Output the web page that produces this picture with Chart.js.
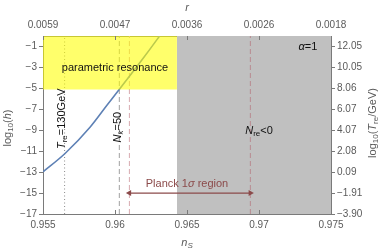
<!DOCTYPE html>
<html>
<head>
<meta charset="utf-8">
<script src="https://cdn.jsdelivr.net/npm/chart.js@4.4.1/dist/chart.umd.min.js"></script>
<style>
  body { margin: 0; background: #fff; }
</style>
</head>
<body>
<canvas id="chart" width="382" height="250"></canvas>
<script>
// curve: log10(h) vs n_s
const nsCurve = [0.955, 0.95653, 0.95828, 0.95944, 0.96025, 0.96176, 0.96304, 0.9632];
const logHCurve = [-12.97, -11.22, -8.69, -6.62, -5.19, -2.49, -0.11, 0.2];

// shaded regions
const resonanceX = [0.955, 0.9643];
const resonanceTop = 0;
const resonanceBottom = -5.1;
const nreNegX = [0.9643, 0.975];

// vertical marker lines
const trLineX = 0.9565;     // T_re = 130 GeV
const nkLineX = 0.9603;     // N_k = 50
const planckX = [0.9610, 0.9694]; // Planck 1 sigma bounds
const arrowY = -15;

// ticks
const nsTicks = [0.955, 0.96, 0.965, 0.97, 0.975];
const nsTickLabels = ['0.955', '0.96', '0.965', '0.97', '0.975'];
const rTickLabels = ['0.0059', '0.0047', '0.0036', '0.0026', '0.0018'];
const yTicks = [-1, -3, -5, -7, -9, -11, -13, -15, -17];
const trTickLabels = ['12.05', '10.05', '8.06', '6.07', '4.07', '2.08', '0.09', '\u22121.91', '\u22123.90'];

const FONT = 'Liberation Sans, Arial, sans-serif';
const AXIS_COLOR = '#7a7a7a';
const LABEL_COLOR = '#5a5a5a';

// text notes, in data coordinates
const notes = [
    { parts: [{ t: 'parametric resonance' }], x: 0.9600, y: -3.07 },
    { parts: [{ t: '\u03b1', it: 1 }, { t: '=1' }], x: 0.9734, y: -1 },
    { parts: [{ t: 'N', it: 1 }, { t: 're', sub: 1 }, { t: '<0' }], x: 0.9700, y: -9.07 },
    { parts: [{ t: 'T', it: 1 }, { t: 're', sub: 1 }, { t: '=130GeV' }], x: 0.95632, y: -7.9, rot: -Math.PI / 2 },
    { parts: [{ t: 'N', it: 1 }, { t: 'k', sub: 1, it: 1 }, { t: '=50' }], x: 0.9602, y: -8.7, rot: -Math.PI / 2 },
    { parts: [{ t: 'Planck 1' }, { t: '\u03c3', it: 1 }, { t: ' region' }], x: 0.9650, y: -14.1, color: '#8b4a4a' }
];

function partFont(p, size) {
    const s = p.sub ? size - 3 : size;
    return (p.it ? 'italic ' : '') + s + 'px ' + FONT;
}

function drawRich(ctx, parts, x, y, rot, color, size) {
    ctx.save();
    ctx.translate(x, y);
    if (rot) ctx.rotate(rot);
    ctx.fillStyle = color;
    ctx.textBaseline = 'middle';
    ctx.textAlign = 'left';
    let w = 0;
    parts.forEach(p => { ctx.font = partFont(p, size); w += ctx.measureText(p.t).width; });
    let cx = -w / 2;
    parts.forEach(p => {
        ctx.font = partFont(p, size);
        ctx.fillText(p.t, cx, p.sub ? 3 : 0);
        cx += ctx.measureText(p.t).width;
    });
    ctx.restore();
}

const textPlugin = {
    id: 'textPlugin',
    afterDatasetsDraw(chart) {
        const ctx = chart.ctx;
        const xs = chart.scales.x, ys = chart.scales.y, area = chart.chartArea;

        // inward tick marks on bottom and top axes
        ctx.save();
        ctx.strokeStyle = AXIS_COLOR;
        ctx.lineWidth = 1;
        nsTicks.forEach(v => {
            const px = Math.round(xs.getPixelForValue(v)) + 0.5;
            ctx.beginPath();
            ctx.moveTo(px, area.bottom); ctx.lineTo(px, area.bottom - 4);
            ctx.moveTo(px, area.top); ctx.lineTo(px, area.top + 4);
            ctx.stroke();
        });
        ctx.restore();

        notes.forEach(n => {
            drawRich(ctx, n.parts, xs.getPixelForValue(n.x), ys.getPixelForValue(n.y), n.rot || 0, n.color || '#111', 11);
        });

        // axis titles
        const mid = (area.left + area.right) / 2;
        drawRich(ctx, [{ t: 'n', it: 1 }, { t: 'S', it: 1, sub: 1 }], mid, 243, 0, LABEL_COLOR, 11);
        drawRich(ctx, [{ t: 'r', it: 1 }], mid, 8, 0, LABEL_COLOR, 11);
        drawRich(ctx, [{ t: 'log' }, { t: '10', sub: 1 }, { t: '(' }, { t: 'h', it: 1 }, { t: ')' }], 8, 128, -Math.PI / 2, LABEL_COLOR, 11);
        drawRich(ctx, [{ t: 'log' }, { t: '10', sub: 1 }, { t: '(' }, { t: 'T', it: 1 }, { t: 're', sub: 1 }, { t: '/GeV)' }], 373, 123, -Math.PI / 2, LABEL_COLOR, 11);
    }
};

function vline(x, color, dash) {
    return {
        data: [{ x: x, y: -17 }, { x: x, y: 0 }],
        borderColor: color, borderWidth: 1, borderDash: dash,
        pointRadius: 0, fill: false
    };
}

const datasets = [
    // yellow region sits on top so the curve shows through it
    {
        data: resonanceX.map(x => ({ x: x, y: resonanceTop })),
        borderWidth: 0, pointRadius: 0,
        backgroundColor: 'rgba(255,255,0,0.58)',
        fill: { value: resonanceBottom }
    },
    {
        data: planckX.map(x => ({ x: x, y: arrowY })),
        borderColor: '#8b4a4a', borderWidth: 1.3,
        backgroundColor: '#8b4a4a',
        pointStyle: 'triangle', pointRadius: 3.5, pointRotation: [-90, 90],
        pointBorderWidth: 0, fill: false
    },
    {
        data: nsCurve.map((x, i) => ({ x: x, y: logHCurve[i] })),
        borderColor: '#5e81b5', borderWidth: 1.6,
        pointRadius: 0, cubicInterpolationMode: 'monotone', fill: false
    },
    vline(trLineX, '#8a8a8a', [1, 2.5]),
    vline(nkLineX, '#a0a0a0', [5, 3]),
    vline(planckX[0], '#d8aab0', [5, 3]),
    vline(planckX[1], '#b88a90', [5, 3]),
    {
        data: nreNegX.map(x => ({ x: x, y: 0 })),
        borderWidth: 0, pointRadius: 0,
        backgroundColor: '#c0c0c0',
        fill: { value: -17 }
    }
];

function xAxis(position, labels) {
    return {
        type: 'linear', position: position, min: 0.955, max: 0.975,
        afterBuildTicks: s => { s.ticks = nsTicks.map(v => ({ value: v })); },
        afterFit: s => { s.height = 36; },
        ticks: {
            callback: v => labels[nsTicks.findIndex(t => Math.abs(t - v) < 1e-9)],
            font: { family: FONT, size: 10 }, color: LABEL_COLOR,
            padding: 5, maxRotation: 0, autoSkip: false
        },
        grid: { drawOnChartArea: false, drawTicks: false },
        border: { color: AXIS_COLOR }
    };
}

function yAxis(position, width, labelFn) {
    return {
        type: 'linear', position: position, min: -17, max: 0,
        afterBuildTicks: s => { s.ticks = yTicks.map(v => ({ value: v })); },
        afterFit: s => { s.width = width; },
        ticks: {
            callback: labelFn,
            font: { family: FONT, size: 10 }, color: LABEL_COLOR,
            padding: 2, autoSkip: false
        },
        grid: { drawOnChartArea: false, tickLength: 4, color: AXIS_COLOR },
        border: { color: AXIS_COLOR }
    };
}

new Chart(document.getElementById('chart'), {
    type: 'scatter',
    data: { datasets: datasets },
    options: {
        responsive: false,
        animation: false,
        showLine: true,
        layout: { padding: 0 },
        plugins: { legend: { display: false }, tooltip: { enabled: false } },
        scales: {
            x: xAxis('bottom', nsTickLabels),
            x2: xAxis('top', rTickLabels),
            y: yAxis('left', 43, v => '\u2212' + Math.abs(v)),
            y2: yAxis('right', 51, v => trTickLabels[yTicks.indexOf(v)])
        }
    },
    plugins: [textPlugin]
});
</script>
</body>
</html>
